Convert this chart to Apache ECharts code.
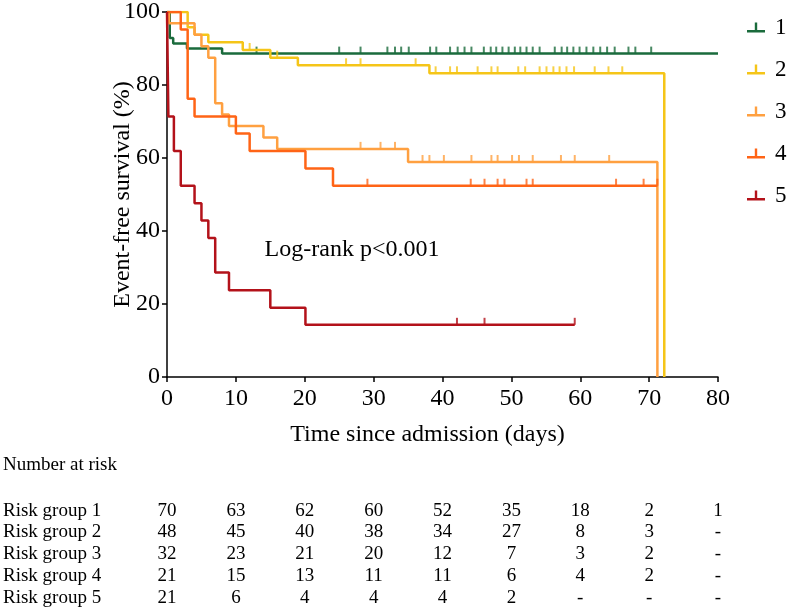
<!DOCTYPE html>
<html><head><meta charset="utf-8">
<script src="https://cdn.jsdelivr.net/npm/echarts@6/dist/echarts.min.js"></script>
<style>html,body{margin:0;padding:0;background:#fff}#c{width:787px;height:610px}</style>
</head><body><div id="c"></div>
<script>
// ---- data ----
const groupNames = ['1','2','3','4','5'];
// event times (days) and survival (%) after each step
const g1Times = [0, 0.4, 0.9, 2.9, 8.0];
const g1Surv  = [100, 92.9, 91.4, 90.0, 88.6];
const g1End = 80;
const g1Cens = [13.0, 25.0, 28.1, 32.0, 33.1, 34.0, 35.1, 38.2, 39.1, 41.1, 42.2, 43.2, 44.2, 46.0, 47.0, 47.8, 48.7, 49.6, 50.5, 51.3, 52.2, 53.1, 54.1, 56.3, 57.3, 58.1, 59.0, 59.9, 60.9, 61.9, 62.9, 63.9, 65.0, 67.0, 68.0, 70.3];

const g2Times = [0, 3.0, 4.0, 6.0, 11.0, 15.0, 19.0, 38.1, 72.2];
const g2Surv  = [100, 95.8, 93.8, 91.7, 89.6, 87.5, 85.4, 83.2, 0];
const g2End = null;
const g2Cens = [12.0, 16.0, 26.0, 28.1, 36.1, 39.0, 41.1, 42.1, 45.1, 47.1, 48.0, 51.0, 52.0, 54.1, 55.1, 56.1, 57.0, 58.0, 59.1, 62.1, 64.1, 66.1];

const g3Times = [0, 0.3, 4.0, 5.0, 6.0, 7.0, 8.0, 9.0, 14.0, 16.0, 35.0, 71.2];
const g3Surv  = [100, 96.9, 93.8, 90.6, 87.5, 75.0, 71.9, 68.8, 65.6, 62.5, 58.9, 0];
const g3End = null;
const g3Cens = [28.1, 31.0, 33.1, 37.1, 38.1, 40.2, 44.2, 47.1, 48.0, 50.1, 51.1, 53.1, 57.2, 59.2, 64.2];

const g4Times = [0, 2.0, 3.0, 4.0, 10.0, 12.0, 20.1, 24.1];
const g4Surv  = [100, 95.2, 76.2, 71.4, 66.7, 61.9, 57.1, 52.4];
const g4End = 71.2;
const g4Cens = [29.1, 44.1, 46.1, 48.0, 49.0, 52.2, 53.1, 65.2, 69.2, 71.2];

const g5Times = [0, 0.2, 1.0, 2.0, 4.0, 5.0, 6.0, 7.0, 9.0, 15.0, 20.1];
const g5Surv  = [100, 71.4, 61.9, 52.4, 47.6, 42.9, 38.1, 28.6, 23.8, 19.0, 14.3];
const g5End = 59.2;
const g5Cens = [42.1, 46.1, 59.2];

const riskTimes = [0, 10, 20, 30, 40, 50, 60, 70, 80];
const risk1 = ['70','63','62','60','52','35','18','2','1'];
const risk2 = ['48','45','40','38','34','27','8','3','-'];
const risk3 = ['32','23','21','20','12','7','3','2','-'];
const risk4 = ['21','15','13','11','11','6','4','2','-'];
const risk5 = ['21','6','4','4','4','2','-','-','-'];
const riskLabels = ['Risk group 1','Risk group 2','Risk group 3','Risk group 4','Risk group 5'];

// ---- styling ----
const colors = ['#1a6b3c', '#f5c518', '#ffa040', '#ff6416', '#b3121a'];
const FONT = '"Liberation Serif","Times New Roman",serif';

const groups = [
  [g1Times, g1Surv, g1End, g1Cens],
  [g2Times, g2Surv, g2End, g2Cens],
  [g3Times, g3Surv, g3End, g3Cens],
  [g4Times, g4Surv, g4End, g4Cens],
  [g5Times, g5Surv, g5End, g5Cens]
];
function survAt(T, S, t) { let v = S[0]; for (let i = 0; i < T.length; i++) { if (T[i] <= t) v = S[i]; } return v; }

const series = [];
groups.forEach((g, i) => {
  const [T, S, end, C] = g;
  const pts = T.map((t, k) => [t, S[k]]);
  if (end != null) pts.push([end, S[S.length - 1]]);
  series.push({
    name: groupNames[i], type: 'line', step: 'end', data: pts, showSymbol: false, symbol: 'none',
    color: colors[i], lineStyle: { color: colors[i], width: 2.5 }, z: 2 + i
  });
  series.push({
    name: 'c' + groupNames[i], type: 'scatter', data: C.map(t => [t, survAt(T, S, t)]),
    symbol: 'rect', symbolSize: [2, 7], symbolOffset: [0, -3.5],
    itemStyle: { color: colors[i] }, z: 2 + i, silent: true
  });
});

const chart = echarts.init(document.getElementById('c'), null, { renderer: 'canvas' });
const option = {
  animation: false,
  color: colors,
  grid: { left: 167, right: 69, top: 10, bottom: 233 },
  legend: {
    orient: 'vertical', left: 747, top: 16, padding: 0, itemWidth: 18, itemHeight: 10, itemGap: 19,
    icon: 'path://M0,7.5L18,7.5L18,10L0,10Z M7.8,0L10.2,0L10.2,7.5L7.8,7.5Z',
    textStyle: { fontFamily: FONT, fontSize: 23, color: '#000', padding: [0, 0, 0, 5] },
    data: groupNames, selectedMode: false
  },
  xAxis: {
    type: 'value', min: 0, max: 80, interval: 10,
    axisLine: { show: true, lineStyle: { color: '#000', width: 1.5 } },
    axisTick: { show: true, length: 5, lineStyle: { color: '#000', width: 1.5 } },
    axisLabel: { fontFamily: FONT, fontSize: 24, color: '#000', margin: 10 },
    splitLine: { show: false },
    name: 'Time since admission (days)', nameLocation: 'middle', nameGap: 46, nameMoveOverlap: false,
    nameTextStyle: { fontFamily: FONT, fontSize: 24, color: '#000', padding: [0, 30, 0, 0] }
  },
  yAxis: {
    type: 'value', min: 0, max: 100, interval: 20,
    axisLine: { show: true, lineStyle: { color: '#000', width: 1.5 } },
    axisTick: { show: true, length: 5, lineStyle: { color: '#000', width: 1.5 } },
    axisLabel: { fontFamily: FONT, fontSize: 24, color: '#000', margin: 7 },
    splitLine: { show: false },
    name: 'Event-free survival (%)', nameLocation: 'middle', nameGap: 32, nameRotate: 90, nameMoveOverlap: false,
    nameTextStyle: { fontFamily: FONT, fontSize: 24, color: '#000' }
  },
  series: series
};
chart.setOption(option);

// number-at-risk table and annotation
const rows = [risk1, risk2, risk3, risk4, risk5];
const rowY = [511, 532, 554, 576, 598];
const gfx = [];
gfx.push({ type: 'text', x: 3, y: 465, style: { text: 'Number at risk', font: '19px ' + FONT, fill: '#000', textVerticalAlign: 'middle' } });
rows.forEach((r, ri) => {
  gfx.push({ type: 'text', x: 3, y: rowY[ri], style: { text: riskLabels[ri], font: '19px ' + FONT, fill: '#000', textVerticalAlign: 'middle', textAlign: 'left' } });
  r.forEach((v, ci) => {
    const px = chart.convertToPixel({ xAxisIndex: 0 }, riskTimes[ci]);
    gfx.push({ type: 'text', x: px, y: rowY[ri], style: { text: v, font: '19px ' + FONT, fill: '#000', textAlign: 'center', textVerticalAlign: 'middle' } });
  });
});
gfx.push({ type: 'text', x: 352, y: 250, style: { text: 'Log-rank p<0.001', font: '24px ' + FONT, fill: '#000', textAlign: 'center', textVerticalAlign: 'middle' } });
chart.setOption({ graphic: gfx });
</script></body></html>
